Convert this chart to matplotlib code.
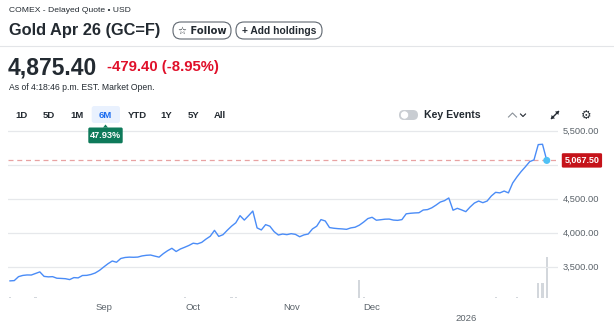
import numpy as np
import pandas as pd
import matplotlib
matplotlib.use("Agg")
import matplotlib.pyplot as plt
from matplotlib.patches import FancyBboxPatch, Polygon, Circle
from matplotlib.lines import Line2D
from matplotlib.transforms import IdentityTransform

plt.rcParams["font.family"] = ["Liberation Sans", "DejaVu Sans"]

# ---- data -------------------------------------------------------------
holidays = ["2025-09-01", "2025-11-27", "2025-12-25", "2026-01-01", "2026-01-19"]
dates = pd.bdate_range("2025-07-31", "2026-01-30", freq="C", holidays=holidays)

prices = [3296, 3300, 3358, 3376, 3383, 3382, 3405, 3428, 3362, 3355,
          3358, 3335, 3332, 3328, 3315, 3344, 3340, 3375, 3377, 3390,
          3412, 3450, 3500, 3548, 3588, 3570, 3625, 3640, 3645, 3643,
          3646, 3663, 3672, 3676, 3660, 3645, 3697, 3740, 3775, 3728,
          3765, 3790, 3817, 3850, 3840, 3862, 3910, 3952, 4039, 3950,
          3975, 4040, 4100, 4150, 4255, 4190, 4255, 4323, 4075, 4045,
          4123, 4100, 4020, 3970, 3985, 3976, 3990, 3980, 3945, 3972,
          3985, 4060, 4100, 4197, 4177, 4080, 4070, 4064, 4060, 4054,
          4075, 4085, 4115, 4160, 4212, 4231, 4188, 4195, 4203, 4205,
          4190, 4186, 4197, 4282, 4290, 4295, 4298, 4338, 4344, 4370,
          4410, 4455, 4476, 4515, 4335, 4363, 4340, 4314, 4382, 4440,
          4470, 4446, 4470, 4545, 4598, 4590, 4617, 4590, 4735, 4825,
          4905, 4975, 5050, 5075, 5300, 5305, 5067.5]

volume_dates = ["2025-07-31", "2025-08-08", "2025-09-29", "2025-10-14",
                "2025-10-15", "2025-11-25", "2025-11-26", "2026-01-13",
                "2026-01-21", "2026-01-28", "2026-01-29", "2026-01-30"]
volume_k = [1.5, 1.2, 1.5, 1.0, 1.0, 26, 1.5, 0.8, 0.8, 22, 22, 60]

ref_price = 5067.50
y_levels = [3500, 4000, 4500, 5000, 5500]
y_labels = ["3,500.00", "4,000.00", "4,500.00", "5,000.00", "5,500.00"]
range_buttons = ["1D", "5D", "1M", "6M", "YTD", "1Y", "5Y", "All"]
range_x = [21.7, 49, 76.7, 105.7, 137.3, 166.7, 193.3, 220]
pct_change = "47.93%"

# ---- figure -----------------------------------------------------------
W, H = 614, 325
fig = plt.figure(figsize=(W / 100, H / 100), dpi=100)
fig.patch.set_facecolor("white")
I = IdentityTransform()


def fx(x):
    return x / W


def fy(y):
    return 1 - y / H


def rbox(x0, y0, x1, y1, r, fc, ec="none", lw=0.8, z=2):
    p = FancyBboxPatch((x0, H - y1), x1 - x0, y1 - y0,
                       boxstyle=f"round,pad=0,rounding_size={r}",
                       fc=fc, ec=ec, lw=lw, transform=I, zorder=z)
    fig.add_artist(p)
    return p


dark = "#232a31"
gray = "#5b636a"

# header
fig.text(fx(9), fy(10.5), "COMEX - Delayed Quote \u2022 USD", fontsize=6.1,
         color=dark, va="center", ha="left")
fig.text(fx(9), fy(31), "Gold Apr 26 (GC=F)", fontsize=11.8, weight="bold",
         color=dark, va="center", ha="left")

rbox(173, 22, 231, 39, 8, "white", "#5f6770")
fig.text(fx(202), fy(30.8), "\u2606 Follow", fontsize=7.2, color=dark,
         va="center", ha="center", family=["DejaVu Sans"], weight="bold")
rbox(236, 22, 322, 39, 8, "white", "#5f6770")
fig.text(fx(279), fy(30.8), "+ Add holdings", fontsize=7.4, color=dark,
         va="center", ha="center", weight="bold")

fig.add_artist(Line2D([0, W], [H - 45.7, H - 45.7], color="#e3e5e8", lw=0.8,
                      transform=I))

fig.text(fx(8), fy(68), "4,875.40", fontsize=16.5, weight="bold", color=dark,
         va="center", ha="left")
fig.text(fx(107), fy(67), "-479.40 (-8.95%)", fontsize=10.7, weight="bold",
         color="#e0102a", va="center", ha="left")
fig.text(fx(9), fy(87), "As of 4:18:46 p.m. EST. Market Open.", fontsize=6.2,
         color=dark, va="center", ha="left")

# range selector
rbox(91.7, 106, 120, 123, 2.5, "#e9f1fe")
for lab, x in zip(range_buttons, range_x):
    fig.text(fx(x), fy(115), lab, fontsize=6.8, weight="bold",
             color="#1a6cf0" if lab == "6M" else dark, va="center", ha="center")

# change badge under the selected range
rbox(88.3, 127.5, 122.7, 143.3, 1.5, "#0e7a5a", z=6)
fig.add_artist(Polygon([(103, H - 127.6), (108, H - 127.6), (105.5, H - 124.5)],
                       closed=True, fc="#0e7a5a", ec="none", transform=I, zorder=6))
fig.text(fx(105.5), fy(135.6), pct_change, fontsize=6.6, weight="bold",
         color="white", va="center", ha="center", zorder=7)

# key events toggle and icons
rbox(399, 110, 418, 120, 5, "#c9cdd2")
fig.add_artist(Circle((404.5, H - 115), 4.2, fc="white", ec="#c9cdd2", lw=0.6,
                      transform=I, zorder=3))
fig.text(fx(424), fy(115), "Key Events", fontsize=7.6, weight="bold", color=dark,
         va="center", ha="left")
fig.add_artist(Line2D([508.5, 512.5, 516.5], [H - 117, H - 113, H - 117],
                      color="#8a9199", lw=0.8, transform=I))
fig.add_artist(Line2D([520.5, 523, 525.5], [H - 114, H - 116.5, H - 114],
                      color=dark, lw=0.8, transform=I))
fig.add_artist(Line2D([551.5, 558.5], [H - 118.5, H - 111.5], color=dark, lw=1.0,
                      transform=I))
fig.add_artist(Polygon([(559, H - 111), (555, H - 111.6), (558.4, H - 115)],
                       closed=True, fc=dark, ec="none", transform=I))
fig.add_artist(Polygon([(551, H - 119), (555, H - 118.4), (551.6, H - 115)],
                       closed=True, fc=dark, ec="none", transform=I))
fig.text(fx(586), fy(115.5), "\u2699", fontsize=8.5, color=dark, va="center",
         ha="center", family=["DejaVu Sans"])

# ---- chart ------------------------------------------------------------
ax_l, ax_r, ax_t, ax_b = 8, 558, 122, 298
ax = fig.add_axes([fx(ax_l), fy(ax_b), (ax_r - ax_l) / W, (ax_b - ax_t) / H])
axv = ax.twinx()
ax.set_zorder(axv.get_zorder() + 1)
ax.patch.set_visible(False)

x = np.arange(len(prices))
px_per_day = 4.26
x_left = (ax_l - 10) / px_per_day
x_right = (ax_r - 10) / px_per_day
ax.set_xlim(x_left, x_right)

px_per_unit = 34 / 500
y_bot = 5500 - (ax_b - 131) / px_per_unit
y_top = 5500 + (131 - ax_t) / px_per_unit
ax.set_ylim(y_bot, y_top)

for lv in y_levels:
    ax.axhline(lv, color="#e6e8eb", lw=0.9, zorder=1)

ax.axhline(ref_price, color="#e8a2a2", lw=0.9, dashes=(4, 3), zorder=2)
ax.plot(x, prices, color="#4a8cf7", lw=1.0, zorder=3, solid_joinstyle="round")
ax.scatter([x[-1]], [prices[-1]], s=26, color="#4fc1f5", zorder=4,
           edgecolors="none")

# volume bars
vol_pos = [dates.get_loc(pd.Timestamp(d)) for d in volume_dates]
axv.bar(vol_pos, volume_k, width=0.5, color="#d3d7dc", zorder=1)
axv.set_ylim(0, 60 * (ax_b - ax_t) / 41.5)
axv.set_xlim(x_left, x_right)

for a in (ax, axv):
    for s in a.spines.values():
        s.set_visible(False)
    a.tick_params(length=0)
axv.set_yticks([])
ax.set_yticks([])

# y labels on the right
ytr = ax.get_yaxis_transform()
lab_x = (563 - ax_l) / (ax_r - ax_l)
for lv, lab in zip(y_levels, y_labels):
    if lv == 5000:
        continue
    ax.text(lab_x, lv, lab, transform=ytr, fontsize=6.7, color=gray,
            va="center", ha="left", clip_on=False)
box_x = (564.5 - ax_l) / (ax_r - ax_l)
ax.text(box_x, ref_price, f"{ref_price:,.2f}", transform=ytr, fontsize=6.5,
        weight="bold", color="white", va="center", ha="left", clip_on=False,
        zorder=6,
        bbox=dict(boxstyle="round,pad=0.3,rounding_size=0.15", fc="#c5131a",
                  ec="none"))

# month ticks at first trading day of each full month in range
month_starts = []
month_labels = []
for i in range(2, len(dates)):
    if dates[i].month != dates[i - 1].month:
        month_starts.append(i)
        if dates[i].month == 1:
            month_labels.append("\n" + str(dates[i].year))
        else:
            month_labels.append(dates[i].strftime("%b"))
ax.set_xticks(month_starts)
ax.set_xticklabels(month_labels, fontsize=6.8, color=gray, linespacing=1.3)
ax.tick_params(axis="x", pad=3.4)

fig.savefig("out.png", dpi=100, facecolor="white")
